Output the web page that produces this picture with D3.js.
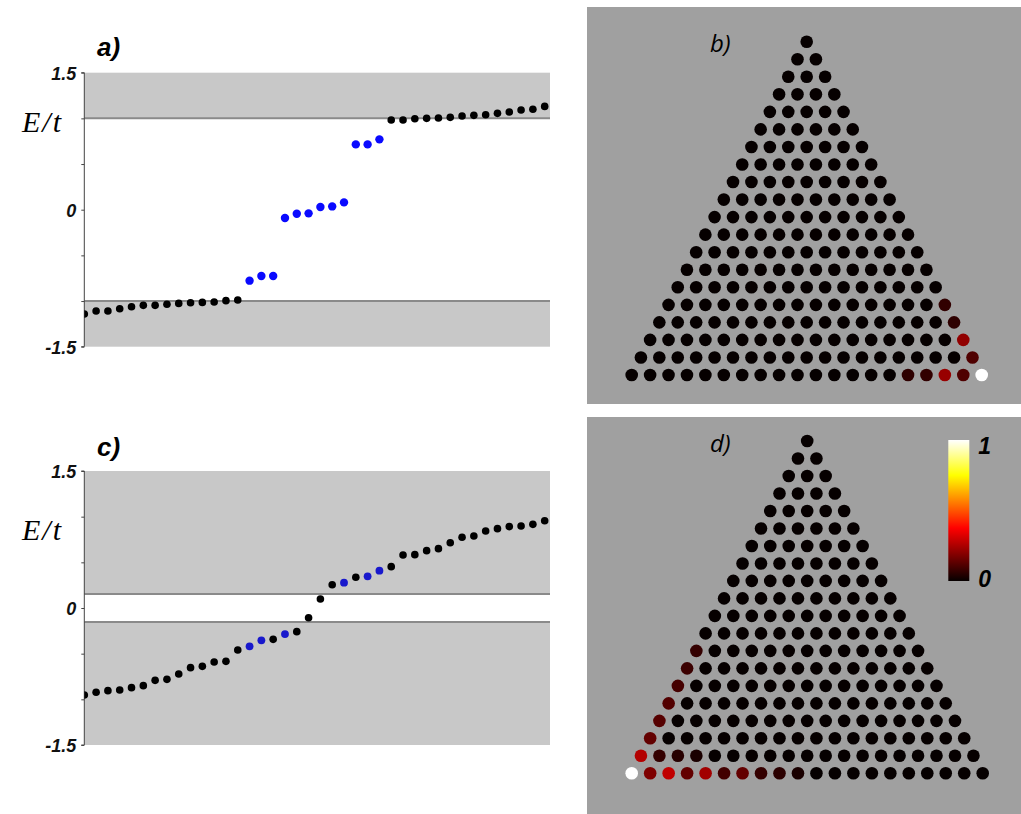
<!DOCTYPE html>
<html>
<head>
<meta charset="utf-8">
<script src="https://cdn.jsdelivr.net/npm/d3@7"></script>
<style>
body { margin: 0; background: #fff; }
svg { display: block; }
</style>
</head>
<body>
<div id="chart"></div>
<script>
// sorted eigenvalues E/t, 40 states shown per spectrum
var levelsA = [-1.142, -1.109, -1.109, -1.084, -1.062, -1.047, -1.047, -1.036, -1.026, -1.018,
    -1.015, -1.011, -0.996, -0.989, -0.777, -0.726, -0.726, -0.091, -0.044, -0.040,
    0.029, 0.036, 0.080, 0.715, 0.715, 0.770, 0.982, 0.982, 0.996, 1.000,
    1.004, 1.011, 1.026, 1.033, 1.040, 1.055, 1.069, 1.091, 1.099, 1.131];
var edgeStatesA = [14, 15, 16, 17, 18, 19, 20, 21, 22, 23, 24, 25];
var gapA = [-1.0, 1.0];

var levelsC = [-0.953, -0.923, -0.905, -0.898, -0.872, -0.850, -0.792, -0.781, -0.723, -0.653,
    -0.639, -0.591, -0.584, -0.460, -0.420, -0.354, -0.343, -0.285, -0.259, -0.106,
    0.099, 0.255, 0.277, 0.336, 0.347, 0.409, 0.453, 0.580, 0.584, 0.628,
    0.650, 0.715, 0.774, 0.788, 0.843, 0.869, 0.891, 0.898, 0.916, 0.956];
var edgeStatesC = [14, 15, 17, 22, 24, 25];
var gapC = [-0.153, 0.153];

var yTicks = [-1.5, -1, -0.5, 0, 0.5, 1, 1.5];
var yTickLabels = ['-1.5', '0', '1.5'];

// |psi|^2 on the triangular flake (row, site in row, value); all other sites are 0
var nRows = 20;
var densityB = [
    [19, 19, 1.0], [19, 18, 0.11], [18, 18, 0.11], [19, 17, 0.22], [17, 17, 0.21],
    [19, 16, 0.065], [16, 16, 0.06], [19, 15, 0.06], [15, 15, 0.065]
];
var densityD = [
    [19, 0, 1.0], [19, 1, 0.18], [19, 2, 0.28], [19, 3, 0.14], [19, 4, 0.235],
    [19, 5, 0.09], [19, 6, 0.14], [19, 7, 0.07], [19, 8, 0.055], [19, 9, 0.03],
    [18, 0, 0.26], [18, 1, 0.07], [18, 2, 0.05], [18, 3, 0.03],
    [17, 0, 0.14], [16, 0, 0.12], [15, 0, 0.115], [14, 0, 0.095], [13, 0, 0.08], [12, 0, 0.07]
];
var colorbarTicks = [0, 1];

var width = 1021, height = 814;

var svg = d3.select('#chart').append('svg')
    .attr('width', width)
    .attr('height', height);

var hot = d3.scaleLinear()
    .domain([0, 0.375, 0.75, 1])
    .range(['#060000', '#ff0000', '#ffff00', '#ffffff'])
    .clamp(true);

function drawSpectrum(id, levels, edgeStates, gap, box, opts) {
    var g = svg.append('g');
    var x = d3.scaleLinear().domain([0, 39.45]).range([box.left, box.right]);
    var y = d3.scaleLinear().domain([-1.5, 1.5]).range([box.bottom, box.top]);

    svg.append('clipPath').attr('id', id)
        .append('rect')
        .attr('x', box.left).attr('y', box.top)
        .attr('width', box.right - box.left).attr('height', box.bottom - box.top);

    // bulk bands
    g.selectAll('rect.band').data([[gap[1], 1.5], [-1.5, gap[0]]])
        .enter().append('rect')
        .attr('class', 'band')
        .attr('x', box.left)
        .attr('width', box.right - box.left)
        .attr('y', function(d) { return y(d[1]); })
        .attr('height', function(d) { return y(d[0]) - y(d[1]); })
        .attr('fill', '#c8c8c8');

    g.selectAll('line.gap').data(gap)
        .enter().append('line')
        .attr('x1', box.left).attr('x2', box.right)
        .attr('y1', function(d) { return y(d); })
        .attr('y2', function(d) { return y(d); })
        .attr('stroke', '#8a8a8a')
        .attr('stroke-width', 2);

    var axis = d3.axisLeft(y)
        .tickValues(yTicks)
        .tickSize(3)
        .tickFormat(function(d) { return yTickLabels.indexOf(String(d)) >= 0 ? String(d) : ''; });
    var ax = g.append('g')
        .attr('transform', 'translate(' + box.left + ',0)')
        .call(axis);
    ax.select('.domain').attr('stroke', '#444').attr('d', 'M-3,' + box.top + 'H0V' + box.bottom + 'H-3');
    ax.selectAll('.tick line').attr('stroke', '#444');
    ax.selectAll('.tick text')
        .attr('x', -8)
        .attr('dy', '0.36em')
        .style('font-family', 'Liberation Sans, Arial, sans-serif')
        .style('font-size', '18px')
        .style('font-weight', 'bold')
        .style('font-style', 'italic')
        .attr('fill', '#111');

    g.append('g').attr('clip-path', 'url(#' + id + ')')
        .selectAll('circle').data(levels)
        .enter().append('circle')
        .attr('cx', function(d, i) { return x(i); })
        .attr('cy', function(d) { return y(d); })
        .attr('r', function(d, i) { return edgeStates.indexOf(i) >= 0 ? opts.blueR : 3.8; })
        .attr('fill', function(d, i) { return edgeStates.indexOf(i) >= 0 ? opts.blue : '#000'; });

    g.append('text')
        .attr('x', opts.labelX).attr('y', opts.labelY)
        .style('font-family', 'Liberation Sans, Arial, sans-serif')
        .style('font-size', '26px')
        .style('font-weight', 'bold')
        .style('font-style', 'italic')
        .text(opts.label);

    g.append('text')
        .attr('x', 22).attr('y', opts.eY)
        .style('font-family', 'Liberation Serif, Times New Roman, serif')
        .style('font-size', '30px')
        .style('font-style', 'italic')
        .style('letter-spacing', '2px')
        .text('E/t');
}

function drawLattice(density, box, lat, label) {
    var g = svg.append('g');
    g.append('rect')
        .attr('x', box.left).attr('y', box.top)
        .attr('width', box.right - box.left).attr('height', box.bottom - box.top)
        .attr('fill', '#a0a0a0');

    var x = d3.scaleLinear().domain([-(nRows - 1) / 2, (nRows - 1) / 2]).range([lat.left, lat.right]);
    var y = d3.scaleLinear().domain([0, nRows - 1]).range([lat.top, lat.bottom]);

    var lookup = {};
    density.forEach(function(d) { lookup[d[0] + '_' + d[1]] = d[2]; });
    var sites = [];
    d3.range(nRows).forEach(function(r) {
        d3.range(r + 1).forEach(function(c) {
            sites.push({ row: r, col: c, v: lookup[r + '_' + c] || 0 });
        });
    });

    g.selectAll('circle').data(sites)
        .enter().append('circle')
        .attr('cx', function(d) { return x(d.col - d.row / 2); })
        .attr('cy', function(d) { return y(d.row); })
        .attr('r', 6.3)
        .attr('fill', function(d) { return hot(d.v); });

    g.append('text')
        .attr('x', box.left + 123).attr('y', lat.labelY)
        .style('font-family', 'Open Sans, sans-serif')
        .style('font-size', '24px')
        .style('font-style', 'italic')
        .text(label);
    return g;
}

drawSpectrum('clipA', levelsA, edgeStatesA, gapA,
    { left: 84.3, right: 550, top: 72.7, bottom: 346.7 },
    { label: 'a)', labelX: 97, labelY: 56, eY: 132, blue: '#0a0aff', blueR: 4.2 });
drawSpectrum('clipC', levelsC, edgeStatesC, gapC,
    { left: 84.3, right: 550, top: 471, bottom: 745 },
    { label: 'c)', labelX: 97, labelY: 456, eY: 540, blue: '#1818cc', blueR: 3.9 });

drawLattice(densityB, { left: 587, right: 1021, top: 7, bottom: 404 },
    { left: 631.7, right: 981.7, top: 41.7, bottom: 375, labelY: 52 }, 'b)');
var gD = drawLattice(densityD, { left: 587, right: 1021, top: 417, bottom: 814 },
    { left: 631.7, right: 982.7, top: 441, bottom: 773.3, labelY: 452 }, 'd)');

// colour bar for panel d
var defs = svg.append('defs');
var grad = defs.append('linearGradient').attr('id', 'hotGrad')
    .attr('x1', 0).attr('y1', 1).attr('x2', 0).attr('y2', 0);
grad.selectAll('stop').data(hot.domain())
    .enter().append('stop')
    .attr('offset', function(d) { return d; })
    .attr('stop-color', function(d) { return hot(d); });

var cbar = { left: 948.3, top: 440, width: 21, height: 141 };
var cy = d3.scaleLinear().domain([0, 1]).range([cbar.top + cbar.height, cbar.top]);
gD.append('rect')
    .attr('x', cbar.left).attr('y', cbar.top)
    .attr('width', cbar.width).attr('height', cbar.height)
    .attr('fill', 'url(#hotGrad)');
gD.selectAll('text.cb').data(colorbarTicks)
    .enter().append('text')
    .attr('class', 'cb')
    .attr('x', cbar.left + cbar.width + 9)
    .attr('y', function(d) { return d === 1 ? cy(d) + 14 : cy(d) + 6; })
    .style('font-family', 'Liberation Sans, Arial, sans-serif')
    .style('font-size', '23px')
    .style('font-weight', 'bold')
    .style('font-style', 'italic')
    .text(function(d) { return d; });
</script>
</body>
</html>
